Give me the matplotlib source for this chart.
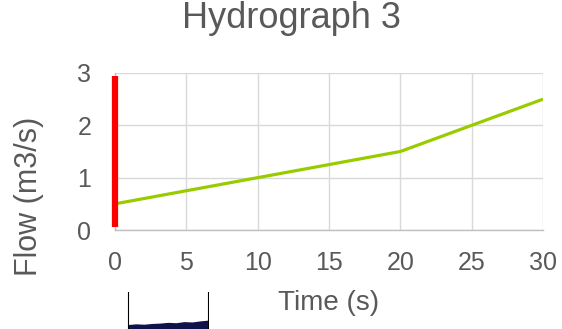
import matplotlib
matplotlib.use("Agg")
import matplotlib.pyplot as plt
import numpy as np

# Data
time_s = [0, 20, 30]
flow_m3s = [0.5, 1.5, 2.5]
marker_x = [0, 0]
marker_y = [0.06, 2.95]
x_ticks = [0, 5, 10, 15, 20, 25, 30]
y_ticks = [0, 1, 2, 3]
title = "Hydrograph 3"
xlabel = "Time (s)"
ylabel = "Flow (m3/s)"

# small artifact strip (bottom left)
strip_x = [0, 1, 2, 3, 4, 5, 6, 7, 8, 9, 10]
strip_h = [0.12, 0.14, 0.13, 0.15, 0.16, 0.18, 0.17, 0.2, 0.19, 0.22, 0.24]

plt.rcParams['font.family'] = ['Liberation Sans', 'DejaVu Sans']
text_col = '#595959'
W, H = 562, 329
fig = plt.figure(figsize=(W / 100, H / 100), dpi=100)
ax = fig.add_axes([115 / W, 1 - 230 / H, (543 - 115) / W, (230 - 73) / H])

ax.plot(time_s, flow_m3s, color='#99CC00', lw=2.3, solid_capstyle='butt', zorder=3)
ax.plot(marker_x, marker_y, color='#FF0000', lw=4.5, solid_capstyle='butt', zorder=4, clip_on=False)

ax.set_xlim(0, 30)
ax.set_ylim(0, 3)
ax.set_xticks(x_ticks)
ax.set_yticks(y_ticks)
ax.grid(True, color='#D9D9D9', lw=1)
ax.set_axisbelow(True)
for s in ['top', 'right']:
    ax.spines[s].set_visible(False)
for s in ['left', 'bottom']:
    ax.spines[s].set_color('#BFBFBF')
    ax.spines[s].set_linewidth(1)
ax.tick_params(axis='both', length=0, labelsize=18, colors=text_col)
ax.tick_params(axis='x', pad=15)
ax.tick_params(axis='y', pad=17)
ax.set_xlabel(xlabel, fontsize=20, color=text_col, labelpad=11)
ax.set_ylabel(ylabel, fontsize=22, color=text_col, va='center')
ax.yaxis.set_label_coords(-(115 - 29) / (543 - 115), 1 - (196 - 73) / (230 - 73))

fig.text(291 / W, 1 - 18 / H, title, fontsize=26, color=text_col, ha='center', va='center')

# artifact inset
ax2 = fig.add_axes([127 / W, 0, (209 - 127) / W, (329 - 292) / H])
ax2.fill_between(strip_x, 0, strip_h, color='#10124A', lw=0)
ax2.axvline(0, color='black', lw=0.8)
ax2.axvline(10, color='black', lw=0.8)
ax2.set_xlim(-0.1, 10.1)
ax2.set_ylim(0, 1)
ax2.axis('off')

fig.savefig('out.png', dpi=100)
